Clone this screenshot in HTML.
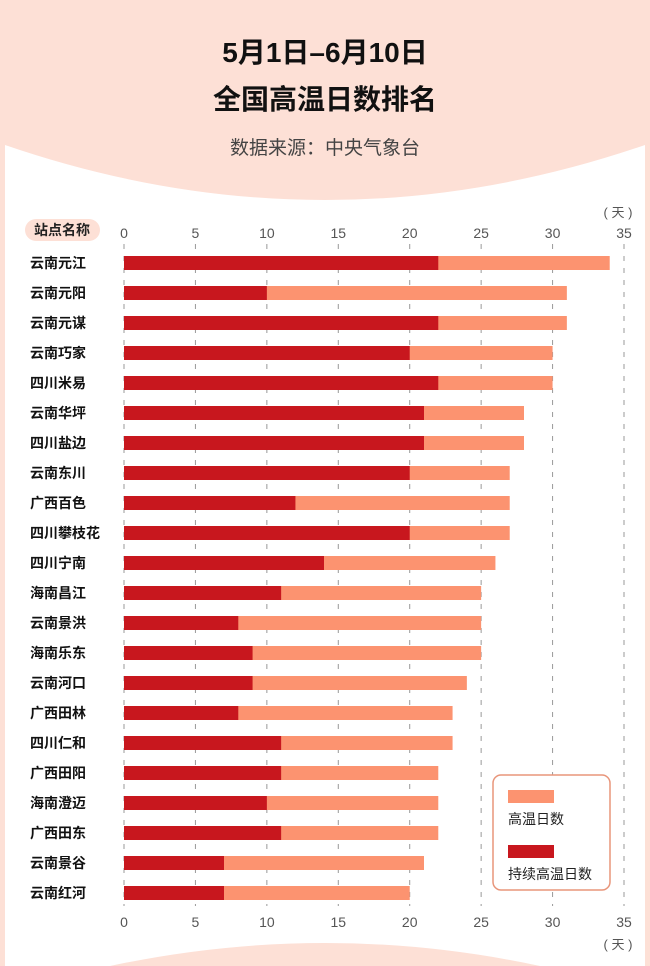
<!DOCTYPE html>
<html><head><meta charset="utf-8"><style>
body{margin:0;width:650px;height:966px;overflow:hidden;background:#fde0d6;font-family:"Liberation Sans","Noto Sans CJK SC",sans-serif;}
</style></head><body>
<svg width="650" height="966" xmlns="http://www.w3.org/2000/svg" style="position:absolute;left:0;top:0">
<path d="M5 145 Q325 255 645 145 L645 966 L5 966 Z" fill="#fff"/>
<path d="M110 966 Q325 920 540 966 Z" fill="#fde0d6"/>
<g font-family="Liberation Sans,Noto Sans CJK SC,sans-serif" text-anchor="middle">
<text x="325" y="62" font-size="28" font-weight="bold" fill="#111">5月1日–6月10日</text>
<text x="325" y="109" font-size="28" font-weight="bold" fill="#111">全国高温日数排名</text>
<text x="325" y="154" font-size="19" fill="#444">数据来源：中央气象台</text>
</g>
<rect x="25" y="219" width="75" height="22" rx="11" fill="#fde0d6"/>
<text x="62" y="235" font-size="14" font-weight="bold" text-anchor="middle" fill="#222" font-family="Liberation Sans,Noto Sans CJK SC,sans-serif">站点名称</text>
<g id="ax"></g>
<g id="bars"></g>
<rect x="493" y="775" width="117" height="115" rx="8" fill="#fff" stroke="#e8957a" stroke-width="1.5"/>
<rect x="508" y="790" width="46" height="13" fill="#fc9370"/>
<text x="508" y="824" font-size="14" fill="#222" font-family="Liberation Sans,Noto Sans CJK SC,sans-serif">高温日数</text>
<rect x="508" y="845" width="46" height="13" fill="#c8171e"/>
<text x="508" y="879" font-size="14" fill="#222" font-family="Liberation Sans,Noto Sans CJK SC,sans-serif">持续高温日数</text>
</svg>
<script>
var ns="http://www.w3.org/2000/svg";
function el(t,a,p,txt){var e=document.createElementNS(ns,t);for(var k in a)e.setAttribute(k,a[k]);if(txt)e.textContent=txt;p.appendChild(e);return e;}
var ax=document.getElementById("ax"),bars=document.getElementById("bars");
var x0=124,k=500/35;
for(var v=0;v<=35;v+=5){var x=x0+v*k;
el("line",{x1:x,x2:x,y1:244,y2:906,stroke:"#999","stroke-width":1,"stroke-dasharray":"5,7"},ax);
el("text",{x:x,y:238,"font-size":14,fill:"#555","text-anchor":"middle","font-family":"Liberation Sans,sans-serif"},ax,""+v);
el("text",{x:x,y:927,"font-size":14,fill:"#555","text-anchor":"middle","font-family":"Liberation Sans,sans-serif"},ax,""+v);}
el("text",{x:618,y:217,"font-size":13,fill:"#555","text-anchor":"middle","font-family":"Liberation Sans,Noto Sans CJK SC,sans-serif"},ax,"( 天 )");
el("text",{x:618,y:949,"font-size":13,fill:"#555","text-anchor":"middle","font-family":"Liberation Sans,Noto Sans CJK SC,sans-serif"},ax,"( 天 )");
var d=[["云南元江",22,34],["云南元阳",10,31],["云南元谋",22,31],["云南巧家",20,30],["四川米易",22,30],["云南华坪",21,28],["四川盐边",21,28],["云南东川",20,27],["广西百色",12,27],["四川攀枝花",20,27],["四川宁南",14,26],["海南昌江",11,25],["云南景洪",8,25],["海南乐东",9,25],["云南河口",9,24],["广西田林",8,23],["四川仁和",11,23],["广西田阳",11,22],["海南澄迈",10,22],["广西田东",11,22],["云南景谷",7,21],["云南红河",7,20]];
d.forEach(function(r,i){var y=263+30*i;
el("rect",{x:x0,y:y-7,width:r[2]*k,height:14,fill:"#fc9370"},bars);
el("rect",{x:x0,y:y-7,width:r[1]*k,height:14,fill:"#c8171e"},bars);
el("text",{x:30,y:y+5,"font-size":14,"font-weight":"bold",fill:"#111","font-family":"Liberation Sans,Noto Sans CJK SC,sans-serif"},bars,r[0]);});
</script>
</body></html>
